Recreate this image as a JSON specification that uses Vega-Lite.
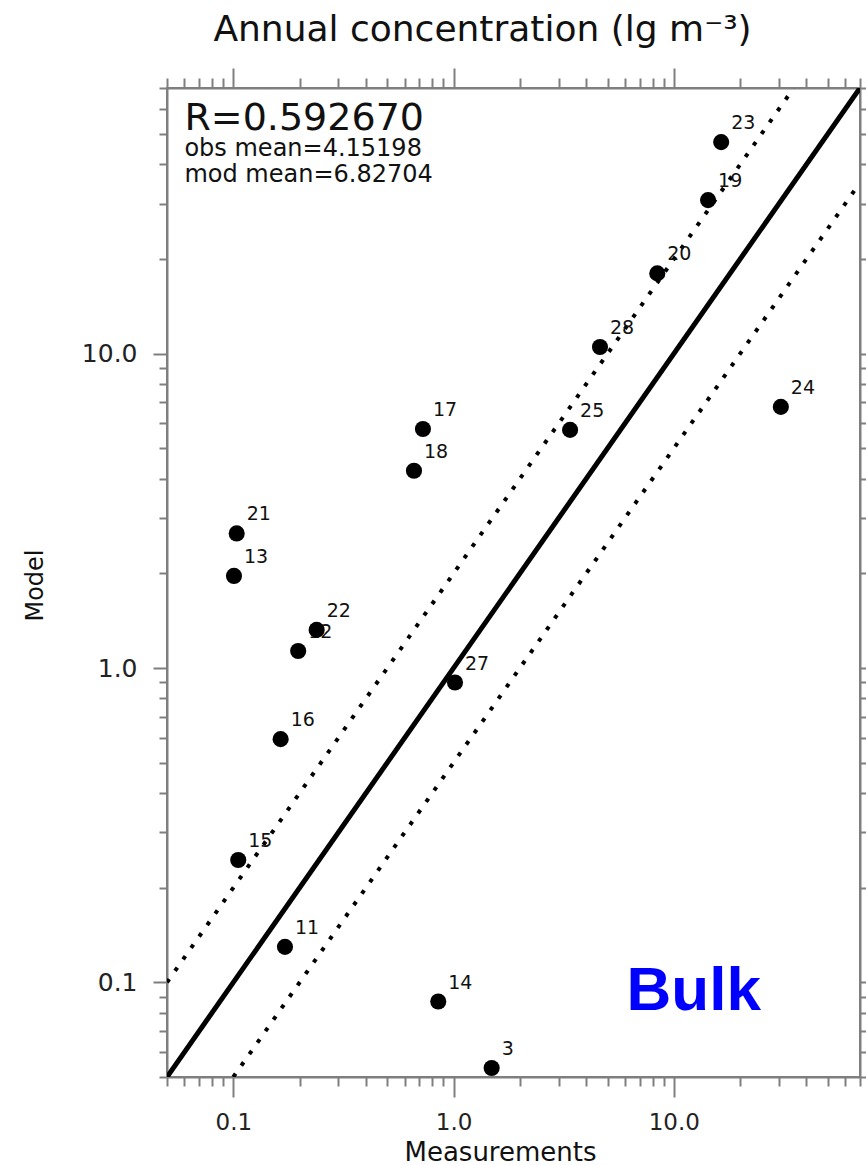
{
  "$schema": "https://vega.github.io/schema/vega-lite/v6.json",
  "width": 693,
  "height": 989,
  "autosize": "none",
  "padding": {"left": 167, "top": 88, "right": 6, "bottom": 88},
  "background": "white",
  "config": {
    "view": {"stroke": "#7f7f7f", "strokeWidth": 2},
    "font": "DejaVu Sans"
  },
  "title": {
    "text": "Annual concentration (lg m⁻³)",
    "font": "DejaVu Sans",
    "fontSize": 36,
    "fontWeight": "normal",
    "color": "#111111",
    "anchor": "middle",
    "dx": -31,
    "offset": 18
  },
  "datasets": {
    "points": [
      {"site": "23", "obs": 16.4, "mod": 47.1},
      {"site": "19", "obs": 14.3, "mod": 30.8},
      {"site": "20", "obs": 8.41, "mod": 18.0},
      {"site": "28", "obs": 4.62, "mod": 10.5},
      {"site": "25", "obs": 3.38, "mod": 5.72},
      {"site": "24", "obs": 30.6, "mod": 6.77},
      {"site": "17", "obs": 0.726, "mod": 5.76},
      {"site": "18", "obs": 0.661, "mod": 4.24},
      {"site": "21", "obs": 0.1036, "mod": 2.68},
      {"site": "13", "obs": 0.1007, "mod": 1.963},
      {"site": "22", "obs": 0.239, "mod": 1.322},
      {"site": "12", "obs": 0.197, "mod": 1.133},
      {"site": "27", "obs": 1.015, "mod": 0.899},
      {"site": "16", "obs": 0.164, "mod": 0.594},
      {"site": "15", "obs": 0.1053, "mod": 0.245},
      {"site": "11", "obs": 0.1716, "mod": 0.1297},
      {"site": "14", "obs": 0.852, "mod": 0.0869},
      {"site": "3", "obs": 1.489, "mod": 0.0534}
    ],
    "lines": [
      {"series": "1:1", "x": 0.05, "y": 0.05},
      {"series": "1:1", "x": 70, "y": 70},
      {"series": "2:1", "x": 0.05, "y": 0.1},
      {"series": "2:1", "x": 35, "y": 70},
      {"series": "1:2", "x": 0.1, "y": 0.05},
      {"series": "1:2", "x": 70, "y": 35}
    ],
    "stats": [
      {"line": "R", "label": "R=0.592670"},
      {"line": "obs", "label": "obs mean=4.15198"},
      {"line": "mod", "label": "mod mean=6.82704"}
    ],
    "tag": [
      {"label": "Bulk"}
    ]
  },
  "layer": [
    {
      "data": {"name": "lines"},
      "transform": [{"filter": "datum.series != '1:1'"}],
      "mark": {"type": "line", "color": "#000000", "strokeWidth": 4, "strokeDash": [4, 10], "clip": true},
      "encoding": {
        "x": {"field": "x", "type": "quantitative", "scale": {"type": "log", "domain": [0.05, 70], "nice": false}, "axis": null},
        "y": {"field": "y", "type": "quantitative", "scale": {"type": "log", "domain": [0.05, 70], "nice": false}, "axis": null},
        "detail": {"field": "series"}
      }
    },
    {
      "data": {"name": "lines"},
      "transform": [{"filter": "datum.series == '1:1'"}],
      "mark": {"type": "line", "color": "#000000", "strokeWidth": 5, "clip": true},
      "encoding": {
        "x": {
          "field": "x", "type": "quantitative",
          "scale": {"type": "log", "domain": [0.05, 70], "nice": false},
          "axis": {
            "orient": "top",
            "values": [0.05, 0.06, 0.07, 0.08, 0.09, 0.1, 0.2, 0.3, 0.4, 0.5, 0.6, 0.7, 0.8, 0.9, 1, 2, 3, 4, 5, 6, 7, 8, 9, 10, 20, 30, 40, 50, 60, 70],
            "labels": false,
            "title": null,
            "grid": false,
            "domainColor": "#7f7f7f",
            "domainWidth": 2,
            "tickColor": "#7f7f7f",
            "tickWidth": 2,
            "tickSize": {"condition": {"test": "datum.value == 0.1 || datum.value == 1 || datum.value == 10", "value": 20}, "value": 10}
          }
        },
        "y": {
          "field": "y", "type": "quantitative",
          "scale": {"type": "log", "domain": [0.05, 70], "nice": false},
          "axis": {
            "orient": "right",
            "values": [0.05, 0.06, 0.07, 0.08, 0.09, 0.1, 0.2, 0.3, 0.4, 0.5, 0.6, 0.7, 0.8, 0.9, 1, 2, 3, 4, 5, 6, 7, 8, 9, 10, 20, 30, 40, 50, 60, 70],
            "labels": false,
            "title": null,
            "grid": false,
            "domainColor": "#7f7f7f",
            "domainWidth": 2,
            "tickColor": "#7f7f7f",
            "tickWidth": 2,
            "tickSize": {"condition": {"test": "datum.value == 0.1 || datum.value == 1 || datum.value == 10", "value": 14}, "value": 8}
          }
        }
      }
    },
    {
      "data": {"name": "points"},
      "mark": {"type": "text", "align": "left", "baseline": "alphabetic", "dx": 10, "dy": -13, "font": "DejaVu Sans", "fontSize": 19, "color": "#111111"},
      "encoding": {
        "x": {"field": "obs", "type": "quantitative", "scale": {"type": "log", "domain": [0.05, 70], "nice": false}, "axis": null},
        "y": {"field": "mod", "type": "quantitative", "scale": {"type": "log", "domain": [0.05, 70], "nice": false}, "axis": null},
        "text": {"field": "site"}
      }
    },
    {
      "data": {"name": "points"},
      "mark": {"type": "circle", "size": 260, "color": "#000000", "opacity": 1},
      "encoding": {
        "x": {
          "field": "obs", "type": "quantitative",
          "scale": {"type": "log", "domain": [0.05, 70], "nice": false},
          "axis": {
            "orient": "bottom",
            "values": [0.05, 0.06, 0.07, 0.08, 0.09, 0.1, 0.2, 0.3, 0.4, 0.5, 0.6, 0.7, 0.8, 0.9, 1, 2, 3, 4, 5, 6, 7, 8, 9, 10, 20, 30, 40, 50, 60, 70],
            "labelExpr": "datum.value == 0.1 || datum.value == 1 || datum.value == 10 ? format(datum.value, '.1f') : ''",
            "labelOverlap": false,
            "labelFlush": false,
            "labelBound": false,
            "labelFont": "DejaVu Sans",
            "labelFontSize": 23,
            "labelColor": "#222222",
            "labelPadding": 14,
            "grid": false,
            "domainColor": "#7f7f7f",
            "domainWidth": 2,
            "tickColor": "#7f7f7f",
            "tickWidth": 2,
            "tickSize": {"condition": {"test": "datum.value == 0.1 || datum.value == 1 || datum.value == 10", "value": 20}, "value": 9},
            "title": "Measurements",
            "titleFont": "DejaVu Sans",
            "titleFontSize": 26,
            "titleFontWeight": "normal",
            "titleColor": "#111111",
            "titleX": 333,
            "titleY": 83,
            "titleAlign": "center",
            "titleBaseline": "alphabetic"
          }
        },
        "y": {
          "field": "mod", "type": "quantitative",
          "scale": {"type": "log", "domain": [0.05, 70], "nice": false},
          "axis": {
            "orient": "left",
            "values": [0.05, 0.06, 0.07, 0.08, 0.09, 0.1, 0.2, 0.3, 0.4, 0.5, 0.6, 0.7, 0.8, 0.9, 1, 2, 3, 4, 5, 6, 7, 8, 9, 10, 20, 30, 40, 50, 60, 70],
            "labelExpr": "datum.value == 0.1 || datum.value == 1 || datum.value == 10 ? format(datum.value, '.1f') : ''",
            "labelOverlap": false,
            "labelFlush": false,
            "labelBound": false,
            "labelFont": "DejaVu Sans",
            "labelFontSize": 25,
            "labelColor": "#222222",
            "labelPadding": 16,
            "grid": false,
            "domainColor": "#7f7f7f",
            "domainWidth": 2,
            "tickColor": "#7f7f7f",
            "tickWidth": 2,
            "tickSize": {"condition": {"test": "datum.value == 0.1 || datum.value == 1 || datum.value == 10", "value": 14}, "value": 8},
            "title": "Model",
            "titleFont": "DejaVu Sans",
            "titleFontSize": 24,
            "titleFontWeight": "normal",
            "titleColor": "#111111",
            "titleAngle": 270,
            "titleX": -125,
            "titleY": 497,
            "titleAlign": "center",
            "titleBaseline": "alphabetic"
          }
        }
      }
    },
    {
      "data": {"name": "stats"},
      "transform": [{"filter": "datum.line == 'R'"}],
      "mark": {"type": "text", "align": "left", "baseline": "alphabetic", "font": "DejaVu Sans", "fontSize": 38, "color": "#111111"},
      "encoding": {
        "x": {"datum": 0.06, "type": "quantitative", "scale": {"type": "log", "domain": [0.05, 70], "nice": false}, "axis": null},
        "y": {"datum": 51.45, "type": "quantitative", "scale": {"type": "log", "domain": [0.05, 70], "nice": false}, "axis": null},
        "text": {"field": "label"}
      }
    },
    {
      "data": {"name": "stats"},
      "transform": [{"filter": "datum.line == 'obs'"}],
      "mark": {"type": "text", "align": "left", "baseline": "alphabetic", "font": "DejaVu Sans", "fontSize": 24, "color": "#111111"},
      "encoding": {
        "x": {"datum": 0.06, "type": "quantitative", "scale": {"type": "log", "domain": [0.05, 70], "nice": false}, "axis": null},
        "y": {"datum": 42.56, "type": "quantitative", "scale": {"type": "log", "domain": [0.05, 70], "nice": false}, "axis": null},
        "text": {"field": "label"}
      }
    },
    {
      "data": {"name": "stats"},
      "transform": [{"filter": "datum.line == 'mod'"}],
      "mark": {"type": "text", "align": "left", "baseline": "alphabetic", "font": "DejaVu Sans", "fontSize": 24, "color": "#111111"},
      "encoding": {
        "x": {"datum": 0.06, "type": "quantitative", "scale": {"type": "log", "domain": [0.05, 70], "nice": false}, "axis": null},
        "y": {"datum": 35.17, "type": "quantitative", "scale": {"type": "log", "domain": [0.05, 70], "nice": false}, "axis": null},
        "text": {"field": "label"}
      }
    },
    {
      "data": {"name": "tag"},
      "mark": {"type": "text", "align": "left", "baseline": "alphabetic", "font": "Liberation Sans", "fontSize": 62, "fontWeight": "bold", "color": "#0000ff"},
      "encoding": {
        "x": {"datum": 6.1, "type": "quantitative", "scale": {"type": "log", "domain": [0.05, 70], "nice": false}, "axis": null},
        "y": {"datum": 0.0817, "type": "quantitative", "scale": {"type": "log", "domain": [0.05, 70], "nice": false}, "axis": null},
        "text": {"field": "label"}
      }
    }
  ],
  "resolve": {"axis": {"x": "independent", "y": "independent"}}
}
